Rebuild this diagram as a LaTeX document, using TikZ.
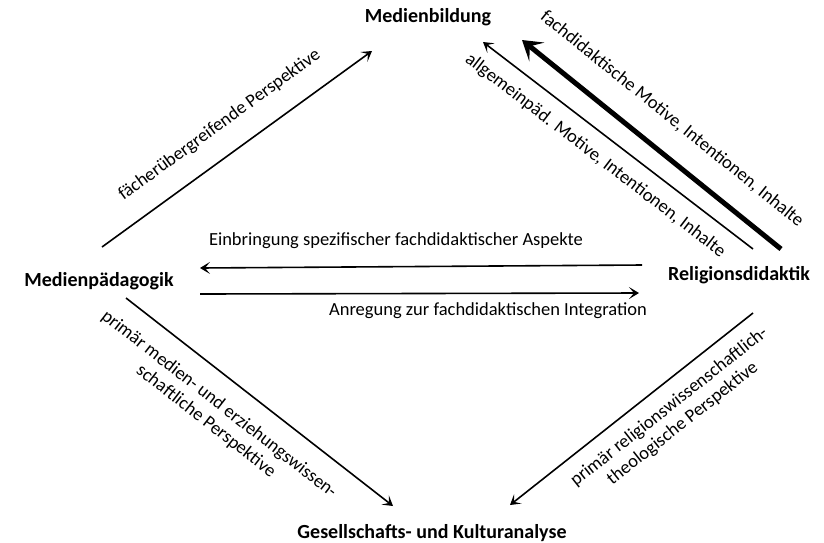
\documentclass[tikz,border=0pt]{standalone}
\usepackage{fontspec}
\setmainfont{Carlito}
\usetikzlibrary{arrows.meta}
\begin{document}
\begin{tikzpicture}[x=1pt,y=-1pt,
  concept/.style={font=\bfseries\fontsize{20}{22}\selectfont, inner sep=0pt},
  lbl/.style={font=\fontsize{18.5}{21.5}\selectfont, inner sep=0pt, text height=13pt, text depth=4pt},
  lbltwo/.style={font=\fontsize{18.5}{21.5}\selectfont, inner sep=0pt, align=center},
  tipthin/.tip={Stealth[length=10pt,width=12pt,inset=5pt]},
  tipthick/.tip={Stealth[length=19pt,width=24pt,inset=9pt]},
  arr/.style={line width=1.6pt, -tipthin},
  arrback/.style={line width=1.6pt, tipthin-},
  thickback/.style={line width=5pt, tipthick-}]
\useasboundingbox (0,0) rectangle (824,542);
% concepts
\node[concept] (mb) at (428,17) {Medienbildung};
\node[concept] (mp) at (99,281) {Medienpädagogik};
\node[concept] (rd) at (739,275) {Religionsdidaktik};
\node[concept] (gk) at (432,533) {Gesellschafts- und Kulturanalyse};
% connector ends
\coordinate (mpA) at (102,247);
\coordinate (mbA) at (372,51);
\coordinate (mbB) at (483,42);
\coordinate (rdB) at (753,249);
\coordinate (mbC) at (522,40);
\coordinate (rdC) at (781,249);
\coordinate (rdD) at (642,265);
\coordinate (mpD) at (200,268);
\coordinate (mpE) at (200,294);
\coordinate (rdE) at (639,293);
\coordinate (mpF) at (126,298);
\coordinate (gkF) at (393,506);
\coordinate (rdG) at (753,313);
\coordinate (gkG) at (510,505);
% connectors
\draw[arr] (mpA) -- (mbA) node[lbl, midway, sloped, above=20pt] {fächerübergreifende Perspektive};
\draw[arrback] (mbB) -- (rdB) node[lbl, pos=0.465, sloped, below=13pt] {allgemeinpäd. Motive, Intentionen, Inhalte};
\draw[thickback] (mbC) -- (rdC) node[lbl, midway, sloped, above=21pt] {fachdidaktische Motive, Intentionen, Inhalte};
\draw[arr] (rdD) -- (mpD);
\draw[arr] (mpE) -- (rdE);
\node[lbl] (einb) at (396,241) {Einbringung spezifischer fachdidaktischer Aspekte};
\node[lbl] (anr) at (488,311) {Anregung zur fachdidaktischen Integration};
\draw[arr] (mpF) -- (gkF) node[lbltwo, pos=0.41, sloped, below=18pt] {primär medien- und erziehungswissen-\\schaftliche Perspektive};
\draw[arrback] (gkG) -- (rdG) node[lbltwo, pos=0.6, sloped, below=13pt] {primär religionswissenschaftlich-\\theologische Perspektive};
\end{tikzpicture}
\end{document}
